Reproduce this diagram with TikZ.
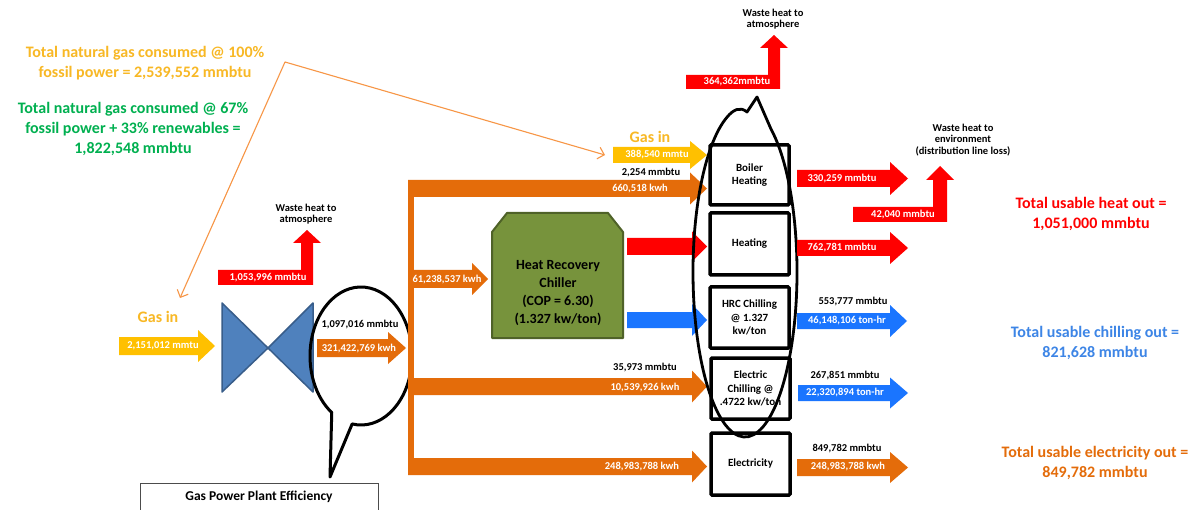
\documentclass[tikz,border=0pt]{standalone}
\usepackage{fontspec}
\setmainfont{Carlito}
\usetikzlibrary{arrows.meta}
\definecolor{gasY}{HTML}{FFC000}
\definecolor{gasT}{HTML}{F8B825}
\definecolor{elecO}{HTML}{E46C0A}
\definecolor{lineO}{HTML}{F79646}
\definecolor{heatR}{HTML}{FF0000}
\definecolor{coolB}{HTML}{1A75FF}
\definecolor{txtB}{HTML}{3D85E6}
\definecolor{txtG}{HTML}{00B050}
\definecolor{hrcG}{HTML}{77933C}
\definecolor{hrcD}{HTML}{4F6228}
\definecolor{bowB}{HTML}{4F81BD}
\definecolor{bowD}{HTML}{385D8A}
% color, x1, xhead, xtip, ycenter, body half, head half
\newcommand\blockarrow[7]{%
 \fill[#1] ({#2},{#5-#6}) -- ({#3},{#5-#6}) -- ({#3},{#5-#7}) -- ({#4},{#5}) -- ({#3},{#5+#7}) -- ({#3},{#5+#6}) -- ({#2},{#5+#6}) -- cycle;}
% color, x1, ytop, ybottom, xv1, xv2, yheadbase, head overhang, ytip
\newcommand\bentup[9]{%
 \fill[#1] ({#2},{#3}) -- ({#5},{#3}) -- ({#5},{#7}) -- ({#5-#8},{#7}) -- ({(#5+#6)/2},{#9}) -- ({#6+#8},{#7}) -- ({#6},{#7}) -- ({#6},{#4}) -- ({#2},{#4}) -- cycle;}
\tikzset{
 lbl/.style={font=\bfseries\fontsize{10.5}{12.5}\selectfont, inner sep=0pt, align=center},
 wlbl/.style={lbl, text=white},
 big/.style={font=\bfseries\fontsize{16}{20}\selectfont, inner sep=0pt, align=center},
 unitbox/.style={draw, line width=3.5pt, rounded corners=1pt, minimum width=79pt, minimum height=60pt, inner sep=0pt,
   font=\bfseries\fontsize{11}{13.5}\selectfont, align=center},
 bubble/.style={draw=black, line width=3pt, line join=round},
}
\begin{document}
\begin{tikzpicture}[x=1pt,y=-1pt]
\clip (0,0) rectangle (1198,510);
\fill[white] (0,0) rectangle (1198,510);

% ---------- top-left texts ----------
\node[big, text=gasT] (tot100) at (145,63) {Total natural gas consumed @ 100\%\\fossil power = 2,539,552 mmbtu};
\node[big, text=txtG] (tot67) at (133,129) {Total natural gas consumed @ 67\%\\fossil power + 33\% renewables =\\1,822,548 mmbtu};

% ---------- gas in (left) ----------
\node[big, text=gasT] (gasinL) at (158,317) {Gas in};
\blockarrow{gasY}{119}{198}{215}{346}{9}{16}
\node[wlbl] (gasL) at (163,346) {2,151,012 mmtu};

% bowtie
\filldraw[fill=bowB, draw=bowD, line width=1.5pt, line join=round] (222,303) -- (268,348) -- (222,392) -- cycle;
\filldraw[fill=bowB, draw=bowD, line width=1.5pt, line join=round] (313,303) -- (268,348) -- (313,392) -- cycle;

% waste heat left
\bentup{heatR}{218}{270}{285}{301}{313}{243}{8}{230}
\node[wlbl] (w1) at (268,278) {1,053,996 mmbtu};
\node[lbl] (w1t) at (306,214) {Waste heat to\\[-1pt]atmosphere};

% plant output
\blockarrow{elecO}{317}{388}{406}{348}{9}{16}
\node[lbl] (pm) at (360,325) {1,097,016 mmbtu};
\node[wlbl] (pk) at (359,349) {321,422,769 kwh};

% left bubble
\draw[bubble] ({361+51*cos(100)},{356+69*sin(100)}) arc[start angle=100, end angle=-235, x radius=51, y radius=69] -- (330,477) -- cycle;

% efficiency box
\draw[draw=black!70, line width=1pt] (140,483) rectangle (378,530);
\node[font=\bfseries\fontsize{13.5}{16}\selectfont, inner sep=0pt] (eff) at (259,497) {Gas Power Plant Efficiency};

% ---------- orange bus ----------
\fill[elecO] (408,181) rectangle (414,475);
\blockarrow{elecO}{408}{690}{707}{188.5}{8.5}{16}
\blockarrow{elecO}{408}{472}{488}{279}{9}{16}
\blockarrow{elecO}{408}{692}{707}{386.5}{8.5}{16}
\blockarrow{elecO}{408}{692}{707}{466.5}{8.5}{16}
\node[wlbl] (k1) at (640,189) {660,518 kwh};
\node[wlbl] (k2) at (447,280) {61,238,537 kwh};
\node[lbl] (m3) at (645,368) {35,973 mmbtu};
\node[wlbl] (k3) at (645,388) {10,539,926 kwh};
\node[wlbl] (k4) at (642,467) {248,983,788 kwh};

% ---------- gas in (top) ----------
\node[big, text=gasT] (gasinT) at (650,137) {Gas in};
\blockarrow{gasY}{613}{690}{707}{155}{8}{14}
\node[wlbl] (gasT1) at (657,155) {388,540 mmtu};
\node[lbl] (m1) at (651,173) {2,254 mmbtu};

% ---------- heat recovery chiller ----------
\filldraw[fill=hrcG, draw=hrcD, line width=2pt, line join=round] (492,232) -- (507,213) -- (608,213) -- (623,232) -- (623,338) -- (492,338) -- cycle;
\node[font=\bfseries\fontsize{14}{18}\selectfont, align=center, inner sep=0pt] (hrc) at (558,293) {Heat Recovery\\Chiller\\(COP = 6.30)\\(1.327 kw/ton)};
\blockarrow{heatR}{627}{692}{707}{246.5}{8.5}{15}
\blockarrow{coolB}{627}{692}{707}{320}{8}{16}

% ---------- unit boxes ----------
\node[unitbox] (boiler) at (749.5,175) {Boiler\\Heating};
\node[unitbox, minimum height=62pt] (heat) at (749.5,244) {Heating};
\node[unitbox, minimum height=61pt] (hrcc) at (749.5,317.5) {HRC Chilling\\@ 1.327\\kw/ton};
\node[unitbox, minimum height=61pt] (echill) at (750.5,388.5) {Electric\\Chilling @\\.4722 kw/ton};
\node[unitbox, minimum height=62pt] (elec) at (750.5,464) {Electricity};

% big bubble
\draw[bubble, line width=2.8pt] ({745+52*cos(-60)},{272+165*sin(-60)}) arc[start angle=-60, end angle=250, x radius=52, y radius=165]
   .. controls (733,110) and (740,106) .. (747,112) -- (757,97) -- cycle;

% top waste heat
\bentup{heatR}{686}{75}{89}{768}{780}{48}{8}{35}
\node[wlbl] (w2) at (737,82) {364,362mmbtu};
\node[lbl] (w2t) at (773,19) {Waste heat to\\[-1pt]atmosphere};

% ---------- outputs ----------
\blockarrow{heatR}{797}{890}{908}{178.5}{8.5}{16.5}
\node[wlbl] (o1) at (842,179) {330,259 mmbtu};
\bentup{heatR}{853}{207}{222}{933}{947}{180}{7}{166}
\node[wlbl] (o2) at (903,215) {42,040 mmbtu};
\node[lbl] (w3t) at (963,140) {Waste heat to\\[-1pt]environment\\[-1pt](distribution line loss)};
\blockarrow{heatR}{797}{890}{908}{248}{8}{16}
\node[wlbl] (o3) at (842,248) {762,781 mmbtu};

\blockarrow{coolB}{797}{890}{907}{321}{8}{16}
\node[lbl] (o4m) at (853,302) {553,777 mmbtu};
\node[wlbl] (o4) at (847,321) {46,148,106 ton-hr};
\blockarrow{coolB}{798}{890}{908}{393}{8}{15.5}
\node[lbl] (o5m) at (845,376) {267,851 mmbtu};
\node[wlbl] (o5) at (845,393) {22,320,894 ton-hr};
\blockarrow{elecO}{797}{890}{908}{467.5}{8.5}{15.5}
\node[lbl] (o6m) at (847,449) {849,782 mmbtu};
\node[wlbl] (o6) at (848,467) {248,983,788 kwh};

% totals
\node[big, text=heatR] (theat) at (1091,214) {Total usable heat out =\\1,051,000 mmbtu};
\node[big, text=txtB] (tcool) at (1095,343) {Total usable chilling out =\\821,628 mmbtu};
\node[big, text=elecO] (telec) at (1095,463) {Total usable electricity out =\\849,782 mmbtu};

% thin orange pointer line
\coordinate (pL) at (180,298);
\coordinate (pC) at (285,62);
\coordinate (pR) at (605,155);
\draw[lineO, line width=1.1pt, line join=round, {Straight Barb[length=6pt,width=12pt]}-{Straight Barb[length=6pt,width=12pt]}] (pL) -- (pC) -- (pR);
\end{tikzpicture}
\end{document}
